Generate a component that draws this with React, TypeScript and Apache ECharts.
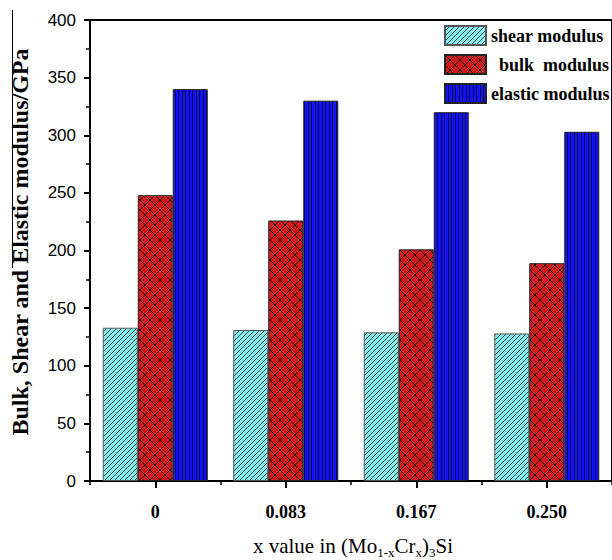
import React, { useEffect, useRef } from 'react';
import * as echarts from 'echarts';

const categories = ['0', '0.083', '0.167', '0.250'];
const seriesNames = ['shear modulus', 'bulk  modulus', 'elastic modulus'];
const shearModulus = [133, 131, 129, 128];
const bulkModulus = [248, 226, 201, 189];
const elasticModulus = [340, 330, 320, 303];
const yMin = 0;
const yMax = 400;
const yInterval = 50;
const yTitle = 'Bulk, Shear and Elastic modulus/GPa';
const xTitleRich = '{m|x value in (Mo}{s|1-x}{m|Cr}{s|x}{m|)}{s|3}{m|Si}';

const SERIF = '"Liberation Serif", "Times New Roman", serif';
const SANS = '"Liberation Sans", Arial, sans-serif';

function makeTile(
  w: number,
  h: number,
  bg: string,
  ink: string,
  on: (x: number, y: number) => boolean
) {
  const c = document.createElement('canvas');
  c.width = w;
  c.height = h;
  const ctx = c.getContext('2d') as CanvasRenderingContext2D;
  ctx.fillStyle = bg;
  ctx.fillRect(0, 0, w, h);
  ctx.fillStyle = ink;
  for (let y = 0; y < h; y++) {
    for (let x = 0; x < w; x++) {
      if (on(x, y)) ctx.fillRect(x, y, 1, 1);
    }
  }
  return { image: c.toDataURL(), repeat: 'repeat', imageWidth: w, imageHeight: h } as any;
}

export default function App() {
  const ref = useRef<HTMLDivElement>(null);

  useEffect(() => {
    if (!ref.current) return;
    const chart = echarts.init(ref.current, undefined, { renderer: 'svg' });

    const cyanPattern = makeTile(5, 5, '#86efee', '#2b4848', (x, y) => x === 4 - y);
    const redPattern = makeTile(10, 10, '#d21c1c', '#2a0000', (x, y) => x === y || x === 9 - y);
    const bluePattern = makeTile(7, 4, '#1212f5', '#000050', (x) => x === 0 || x === 3);

    const patterns = [cyanPattern, redPattern, bluePattern];
    const values = [shearModulus, bulkModulus, elasticModulus];
    const borders = ['#555', '#222', '#222'];

    chart.setOption({
      animation: false,
      grid: {
        left: 90,
        top: 20,
        width: 529,
        height: 461,
        show: true,
        borderColor: '#000',
        borderWidth: 2,
        backgroundColor: 'transparent',
      },
      legend: {
        orient: 'vertical',
        left: 444,
        top: 25,
        padding: 0,
        itemWidth: 41,
        itemHeight: 19,
        itemGap: 8,
        icon: 'rect',
        data: seriesNames,
        textStyle: {
          fontFamily: SERIF,
          fontWeight: 'bold',
          fontSize: 18,
          color: '#000',
          rich: { pad: { width: 8 } },
        },
        formatter: (name: string) => (name.startsWith('bulk') ? '{pad|}' + name : name),
      },
      xAxis: [
        {
          type: 'category',
          data: categories,
          position: 'bottom',
          axisLine: { lineStyle: { color: '#000', width: 2 } },
          axisTick: { show: true, interval: 0, length: 4, lineStyle: { color: '#000', width: 1.5 } },
          axisLabel: {
            fontFamily: SERIF,
            fontWeight: 'bold',
            fontSize: 18,
            color: '#000',
            margin: 22,
          },
          splitLine: { show: false },
        },
        {
          type: 'category',
          data: categories,
          position: 'bottom',
          axisLine: { show: false },
          axisTick: {
            show: true,
            alignWithLabel: true,
            interval: 0,
            length: 7,
            lineStyle: { color: '#000', width: 2 },
          },
          axisLabel: { show: false },
          splitLine: { show: false },
        },
      ],
      yAxis: {
        type: 'value',
        min: yMin,
        max: yMax,
        interval: yInterval,
        axisLine: { show: true, lineStyle: { color: '#000', width: 2 } },
        axisTick: { show: true, length: 6, lineStyle: { color: '#000', width: 2 } },
        minorTick: { show: true, splitNumber: 2, length: 4, lineStyle: { color: '#000', width: 1.5 } },
        splitLine: { show: false },
        axisLabel: { fontFamily: SANS, fontSize: 17, color: '#000', margin: 14 },
      },
      series: seriesNames.map((name, i) => ({
        name,
        type: 'bar',
        data: values[i],
        barWidth: 35,
        barGap: '0%',
        emphasis: { disabled: true },
        itemStyle: { color: patterns[i], borderColor: borders[i], borderWidth: 1 },
      })),
      graphic: [
        {
          type: 'line',
          shape: { x1: 12.5, y1: 10, x2: 12.5, y2: 268 },
          style: { stroke: '#000', lineWidth: 1 },
          silent: true,
        },
        {
          type: 'text',
          x: 20,
          y: 242,
          rotation: Math.PI / 2,
          style: {
            text: yTitle,
            font: 'bold 24px ' + SERIF,
            fill: '#000',
            align: 'center',
            verticalAlign: 'middle',
          },
        },
        {
          type: 'text',
          x: 353,
          y: 546,
          style: {
            text: xTitleRich,
            fill: '#000',
            align: 'center',
            verticalAlign: 'middle',
            rich: {
              m: { fontFamily: SERIF, fontSize: 21, lineHeight: 26, fill: '#000' },
              s: { fontFamily: SERIF, fontSize: 13, lineHeight: 13, verticalAlign: 'bottom', fill: '#000' },
            },
          },
        },
      ],
    });

    return () => chart.dispose();
  }, []);

  return (
    <div
      ref={ref}
      style={{ position: 'absolute', left: 0, top: 0, width: 612, height: 560, background: '#fff' }}
    />
  );
}
